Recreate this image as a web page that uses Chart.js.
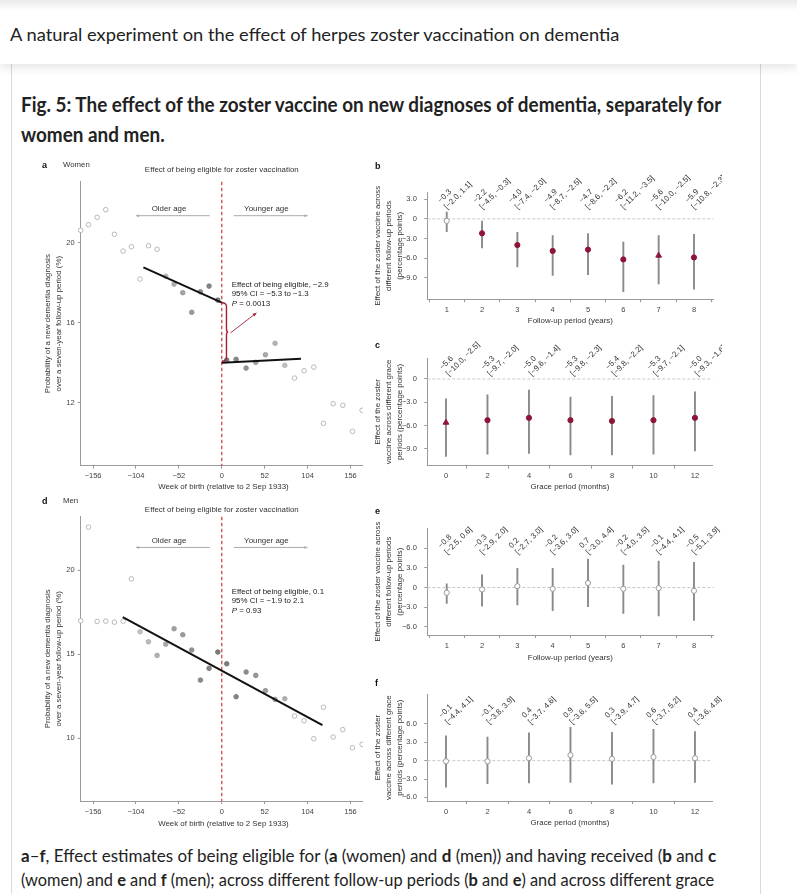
<!DOCTYPE html>
<html>
<head>
<meta charset="utf-8">
<title>Fig. 5 – zoster vaccine and dementia</title>
<script src="https://cdn.jsdelivr.net/npm/chart.js@4.4.1/dist/chart.umd.min.js"></script>
<style>
  html, body { margin: 0; padding: 0; background: #fff; }
  body { width: 797px; height: 894px; position: relative; overflow: hidden; }
  .topbar { position: absolute; left: 0; top: 0; width: 797px; height: 64px; background: linear-gradient(#ebebeb 0, #fff 11px); box-shadow: 0 4px 9px rgba(0,0,0,0.10); z-index: 3; }
  .card { position: absolute; left: 11px; top: 60px; width: 748px; height: 850px; border-left: 1px solid #d9d9d9; border-right: 1px solid #d9d9d9; }
  .txt { position: absolute; white-space: nowrap; transform-origin: 0 0; color: #222; font-family: Lato, "Liberation Sans", sans-serif; line-height: 1; }
  .head { font-size: 18px; left: 10px; top: 25px; z-index: 4; }
  .figtitle { font-size: 20px; font-weight: bold; left: 21px; }
  .caption { font-size: 17px; left: 21px; }
  .clip { position: absolute; overflow: hidden; }
  .clip canvas { position: absolute; left: 0; top: 0; }
  .pl { position: absolute; font-family: "Liberation Sans", Arial, sans-serif; font-size: 9px; font-weight: bold; line-height: 10px; color: #111; }
  .sex { position: absolute; font-family: "Liberation Sans", Arial, sans-serif; font-size: 7.8px; line-height: 10px; color: #333; }
</style>
</head>
<body>
<div class="topbar"></div>
<div class="txt head" id="head">A natural experiment on the effect of herpes zoster vaccination on dementia</div>
<div class="card"></div>
<div class="txt figtitle" id="fig1" style="top:94px">Fig. 5: The effect of the zoster vaccine on new diagnoses of dementia, separately for</div>
<div class="txt figtitle" id="fig2" style="top:124px">women and men.</div>

<div class="clip" style="left:30px;top:160px;width:333px;height:335px"><canvas id="chartA" width="345" height="335"></canvas></div>
<div class="clip" style="left:30px;top:495px;width:333px;height:340px"><canvas id="chartD" width="345" height="340"></canvas></div>
<div class="clip" style="left:360px;top:155px;width:362px;height:175px"><canvas id="chartB" width="380" height="175"></canvas></div>
<div class="clip" style="left:360px;top:330px;width:362px;height:165px"><canvas id="chartC" width="380" height="165"></canvas></div>
<div class="clip" style="left:360px;top:495px;width:362px;height:170px"><canvas id="chartE" width="380" height="170"></canvas></div>
<div class="clip" style="left:360px;top:665px;width:362px;height:170px"><canvas id="chartF" width="380" height="170"></canvas></div>

<div class="pl" style="left:42px;top:160px">a</div><div class="sex" style="left:63px;top:160px">Women</div>
<div class="pl" style="left:42px;top:496px">d</div><div class="sex" style="left:63px;top:496px">Men</div>
<div class="pl" style="left:375px;top:161px">b</div>
<div class="pl" style="left:375px;top:340px">c</div>
<div class="pl" style="left:375px;top:506px">e</div>
<div class="pl" style="left:375px;top:678px">f</div>

<div class="txt caption" id="cap1" style="top:847px"><b>a</b>–<b>f</b>, Effect estimates of being eligible for (<b>a</b> (women) and <b>d</b> (men)) and having received (<b>b</b> and <b>c</b></div>
<div class="txt caption" id="cap2" style="top:871px">(women) and <b>e</b> and <b>f</b> (men); across different follow-up periods (<b>b</b> and <b>e</b>) and across different grace</div>

<script>
// ---- data ----
const weekTicks = [-156, -104, -52, 0, 52, 104, 156];
const birthWeeks = [-171, -161.6, -151.1, -140.6, -130.1, -119.6, -109.5, -99, -88.9, -78.4,
    -67.9, -57.8, -47.3, -36.4, -25.9, -15.4, -4.8, 6, 17.4, 29.5, 41.2, 52.9, 64.6, 76.4,
    88.1, 99.8, 111.5, 123.2, 135, 146.7, 158.4, 170.1];
const womenRisk = [20.62, 20.9, 21.27, 21.65, 20.42, 19.58, 19.8, 18.18, 19.85, 19.67,
    18.32, 17.93, 17.5, 16.52, 17.55, 17.83, 17.13, 14.13, 14.17, 13.73, 14.02, 14.4, 14.97, 13.87,
    13.23, 13.6, 13.78, 10.97, 11.95, 11.87, 10.57, 11.62];
const menRisk = [17.0, 22.58, 16.96, 16.98, 16.92, 16.98, 19.5, 16.35, 15.75, 14.94,
    15.61, 16.53, 16.17, 15.26, 13.47, 14.17, 15.14, 14.44, 12.48, 13.95, 13.75, 12.84, 12.32, 12.36,
    11.33, 11.05, 9.98, 11.85, 10.08, 10.52, 9.44, 9.64];
const womenBand = [-70, 80];
const menBand = [-100, 80];
const womenFitLeftWeeks = [-95, 0];
const womenFitLeft = [18.77, 17.0];
const womenFitRightWeeks = [0, 96];
const womenFitRight = [14.0, 14.2];
const menFitWeeks = [-120, 122];
const menFit = [17.22, 10.79];

const followUpYears = [1, 2, 3, 4, 5, 6, 7, 8];
const graceMonths = [0, 2, 4, 6, 8, 10, 12];
const womenFollowEst = [-0.3, -2.2, -4.0, -4.9, -4.7, -6.2, -5.6, -5.9];
const womenFollowLo = [-2.0, -4.5, -7.4, -8.7, -8.6, -11.2, -10.0, -10.8];
const womenFollowHi = [1.1, -0.3, -2.0, -2.5, -2.2, -3.5, -2.5, -2.3];
const womenGraceEst = [-5.6, -5.3, -5.0, -5.3, -5.4, -5.3, -5.0];
const womenGraceLo = [-10.0, -9.7, -9.6, -9.8, -9.8, -9.7, -9.3];
const womenGraceHi = [-2.5, -2.0, -1.4, -2.3, -2.2, -2.1, -1.6];
const menFollowEst = [-0.8, -0.3, 0.2, -0.2, 0.7, -0.2, -0.1, -0.5];
const menFollowLo = [-2.5, -2.9, -2.7, -3.6, -3.0, -4.0, -4.4, -5.1];
const menFollowHi = [0.6, 2.0, 3.0, 3.0, 4.4, 3.5, 4.1, 3.9];
const menGraceEst = [-0.1, -0.1, 0.4, 0.9, 0.3, 0.6, 0.4];
const menGraceLo = [-4.4, -3.8, -3.7, -3.6, -3.9, -3.7, -3.6];
const menGraceHi = [4.1, 3.9, 4.6, 5.5, 4.7, 5.2, 4.8];

// ---- helpers ----
const FONT = '"Liberation Sans", Arial, Helvetica, sans-serif';
Chart.defaults.font.family = FONT;
const tickFont = {family: FONT, size: 7.5};
const axisTitleFont = {family: FONT, size: 7.9, lineHeight: 1.35};
const NOTE = '7.9px ' + FONT;
const CRIMSON = '#8e1537';
const num = v => (v === 0 ? '0' : String(v)).replace('-', '\u2212');
const dec = v => (v === 0 ? '0' : v.toFixed(1)).replace('-', '\u2212');

// work out padding / axis sizes so the plot area lands where it is in the figure
function frame(box, area, yTitleX, xTitleY) {
    const half = 7.3;
    const padLeft = yTitleX - box.left - half;
    const padBottom = box.top + box.height - (xTitleY + half);
    return {
        padding: {left: padLeft, top: area.top - box.top, right: box.left + box.width - area.right, bottom: padBottom},
        yWidth: area.left - box.left - padLeft,
        xHeight: (box.top + box.height - padBottom) - area.bottom
    };
}

function arrowTo(ctx, x1, y1, x2, y2, size) {
    const ang = Math.atan2(y2 - y1, x2 - x1);
    ctx.beginPath(); ctx.moveTo(x1, y1); ctx.lineTo(x2, y2); ctx.stroke();
    ctx.beginPath();
    ctx.moveTo(x2, y2);
    ctx.lineTo(x2 - size * Math.cos(ang - 0.45), y2 - size * Math.sin(ang - 0.45));
    ctx.lineTo(x2 - size * Math.cos(ang + 0.45), y2 - size * Math.sin(ang + 0.45));
    ctx.closePath(); ctx.fill();
}

function axisStyle(pad) {
    return {
        grid: {display: true, drawOnChartArea: false, drawTicks: true, tickLength: 3, color: '#9a9a9a'},
        border: {display: true, color: '#9a9a9a', width: 1},
        ticks: {font: tickFont, color: '#444', padding: pad, maxRotation: 0, autoSkip: false}
    };
}

// ---- regression discontinuity panels (a, d) ----
const rdNotes = {
    id: 'rdNotes',
    beforeDatasetsDraw(chart) {
        const {ctx, chartArea: a, scales: {x}} = chart;
        const cx = x.getPixelForValue(0);
        ctx.save();
        ctx.strokeStyle = '#cc3a36';
        ctx.lineWidth = 1.2;
        ctx.setLineDash([3.5, 2.5]);
        ctx.beginPath(); ctx.moveTo(cx, a.top); ctx.lineTo(cx, a.bottom); ctx.stroke();
        ctx.restore();
    },
    afterDatasetsDraw(chart, args, o) {
        const {ctx, scales: {x, y}} = chart;
        ctx.save();
        ctx.font = NOTE;
        ctx.fillStyle = '#333';
        ctx.textBaseline = 'middle';
        ctx.textAlign = 'center';
        ctx.fillText(o.title, x.getPixelForValue(0), o.titleY);

        const ty = y.getPixelForValue(o.ageLevel), ay = y.getPixelForValue(o.arrowLevel);
        ctx.fillText('Older age', x.getPixelForValue(-64), ty);
        ctx.fillText('Younger age', x.getPixelForValue(54), ty);
        ctx.strokeStyle = '#aaa'; ctx.fillStyle = '#aaa'; ctx.lineWidth = 1;
        arrowTo(ctx, x.getPixelForValue(-14.5), ay, x.getPixelForValue(-104), ay, 3.5);
        arrowTo(ctx, x.getPixelForValue(14.5), ay, x.getPixelForValue(104), ay, 3.5);

        ctx.fillStyle = '#222'; ctx.textAlign = 'left';
        const nx = x.getPixelForValue(o.noteAt[0]), ny = y.getPixelForValue(o.noteAt[1]);
        ctx.fillText(o.note[0], nx, ny);
        ctx.fillText(o.note[1], nx, ny + 9.5);
        ctx.font = 'italic ' + NOTE;
        ctx.fillText('P', nx, ny + 19);
        const pw = ctx.measureText('P').width;
        ctx.font = NOTE;
        ctx.fillText(o.note[2], nx + pw, ny + 19);

        if (o.bracket) {
            const b = o.bracket;
            const X0 = x.getPixelForValue(0), BX = x.getPixelForValue(b.x), TX = x.getPixelForValue(b.tip);
            const T = y.getPixelForValue(b.top), B = y.getPixelForValue(b.bottom), M = y.getPixelForValue(b.mid);
            ctx.strokeStyle = '#a31d35'; ctx.fillStyle = '#a31d35'; ctx.lineWidth = 1.4;
            ctx.beginPath();
            ctx.moveTo(X0, T);
            ctx.quadraticCurveTo(BX, T, BX, T + 4);
            ctx.lineTo(BX, M - 3);
            ctx.quadraticCurveTo(BX, M, TX, M);
            ctx.quadraticCurveTo(BX, M, BX, M + 3);
            ctx.lineTo(BX, B - 4);
            ctx.quadraticCurveTo(BX, B, X0, B);
            ctx.stroke();
            ctx.lineWidth = 0.9;
            arrowTo(ctx, x.getPixelForValue(b.arrowFrom[0]), y.getPixelForValue(b.arrowFrom[1]),
                x.getPixelForValue(b.arrowTo[0]), y.getPixelForValue(b.arrowTo[1]), 4);
        }
        ctx.restore();
    }
};

function dotFill(w, band) {
    if (w < band[0] || w > band[1]) return '#ffffff';
    const t = Math.abs(w) / Math.max(-band[0], band[1]);
    const g = Math.round(120 + t * 75);
    return 'rgb(' + g + ',' + g + ',' + g + ')';
}
function dotEdge(w, band) {
    if (w < band[0] || w > band[1]) return '#a8a8a8';
    const t = Math.abs(w) / Math.max(-band[0], band[1]);
    const g = Math.round(105 + t * 70);
    return 'rgb(' + g + ',' + g + ',' + g + ')';
}

function fitLine(weeks, vals) {
    return {
        type: 'line', data: weeks.map((w, i) => ({x: w, y: vals[i]})),
        borderColor: '#111', borderWidth: 2, pointRadius: 0, showLine: true, order: 0
    };
}

function rdChart(id, c) {
    const f = frame(c.box, c.area, 48, c.xTitleY);
    const xs = axisStyle(3), ys = axisStyle(3);
    return new Chart(document.getElementById(id), {
        type: 'scatter',
        data: {
            datasets: c.fits.map(p => fitLine(p[0], p[1])).concat([{
                data: birthWeeks.map((w, i) => ({x: w, y: c.risk[i]})),
                pointRadius: 2.3,
                pointBorderWidth: 0.8,
                pointBackgroundColor: birthWeeks.map(w => dotFill(w, c.band)),
                pointBorderColor: birthWeeks.map(w => dotEdge(w, c.band)),
                clip: false,
                order: 1
            }])
        },
        options: {
            responsive: false, animation: false, devicePixelRatio: 1,
            layout: {padding: f.padding},
            plugins: {legend: {display: false}, tooltip: {enabled: false}, rdNotes: c.notes},
            scales: {
                x: Object.assign(xs, {
                    type: 'linear', min: -171, max: 175, offset: false,
                    afterFit: s => { s.height = f.xHeight; },
                    afterBuildTicks: s => { s.ticks = weekTicks.map(v => ({value: v})); },
                    ticks: Object.assign(xs.ticks, {callback: v => num(v)}),
                    title: {display: true, text: 'Week of birth (relative to 2 Sep 1933)', font: axisTitleFont, color: '#333', padding: {top: 2, bottom: 2}}
                }),
                y: Object.assign(ys, {
                    type: 'linear', min: c.yMin, max: c.yMax,
                    afterFit: s => { s.width = f.yWidth; },
                    afterBuildTicks: s => { s.ticks = c.yTicks.map(v => ({value: v})); },
                    ticks: Object.assign(ys.ticks, {callback: v => num(v)}),
                    title: {display: true, text: ['Probability of a new dementia diagnosis', 'over a seven-year follow-up period (%)'], font: axisTitleFont, color: '#333', padding: {top: 2, bottom: 2}}
                })
            }
        },
        plugins: [rdNotes]
    });
}

rdChart('chartA', {
    box: {left: 30, top: 160, width: 345, height: 335},
    area: {left: 80.7, top: 181.7, right: 366.15, bottom: 465.7},
    xTitleY: 486.7, yMin: 8.85, yMax: 23.05, yTicks: [12, 16, 20],
    risk: womenRisk, band: womenBand,
    fits: [[womenFitLeftWeeks, womenFitLeft], [womenFitRightWeeks, womenFitRight]],
    notes: {
        title: 'Effect of being eligible for zoster vaccination', titleY: 10,
        ageLevel: 21.7, arrowLevel: 21.35,
        noteAt: [12, 17.9],
        note: ['Effect of being eligible, \u22122.9', '95% CI = \u22125.3 to \u22121.3', ' = 0.0013'],
        bracket: {x: 5.7, tip: 7.8, top: 17.0, bottom: 14.07, mid: 15.54, arrowFrom: [10.5, 15.49], arrowTo: [42, 16.49]}
    }
});

rdChart('chartD', {
    box: {left: 30, top: 495, width: 345, height: 340},
    area: {left: 80.7, top: 516.7, right: 366.15, bottom: 801},
    xTitleY: 824, yMin: 6.27, yMax: 23.2, yTicks: [10, 15, 20],
    risk: menRisk, band: menBand,
    fits: [[menFitWeeks, menFit]],
    notes: {
        title: 'Effect of being eligible for zoster vaccination', titleY: 14.7,
        ageLevel: 21.79, arrowLevel: 21.37,
        noteAt: [12, 18.73],
        note: ['Effect of being eligible, 0.1', '95% CI = \u22121.9 to 2.1', ' = 0.93'],
        bracket: null
    }
});

// ---- effect estimate panels (b, c, e, f) ----
const ciPanel = {
    id: 'ciPanel',
    beforeDatasetsDraw(chart) {
        const {ctx, chartArea: a, scales: {y}} = chart;
        const zy = y.getPixelForValue(0);
        ctx.save();
        ctx.strokeStyle = '#c8c8c8'; ctx.lineWidth = 1; ctx.setLineDash([3, 2]);
        ctx.beginPath(); ctx.moveTo(a.left, zy); ctx.lineTo(a.right, zy); ctx.stroke();
        ctx.restore();
    },
    afterDatasetsDraw(chart, args, o) {
        const {ctx, scales: {x, y}} = chart;
        ctx.save();
        ctx.font = NOTE;
        ctx.fillStyle = '#333';
        ctx.textAlign = 'left';
        ctx.textBaseline = 'alphabetic';
        const py = y.getPixelForValue(o.level);
        o.xs.forEach((v, i) => {
            ctx.save();
            ctx.translate(x.getPixelForValue(v) + o.dx, py);
            ctx.rotate(-Math.PI / 4);
            ctx.fillText(dec(o.est[i]), 0, 0);
            ctx.fillText('[' + dec(o.lo[i]) + ', ' + dec(o.hi[i]) + ']', 0, 9);
            ctx.restore();
        });
        ctx.restore();
    }
};

function ciChart(id, c) {
    const f = frame(c.box, c.area, 378, c.xTitleY);
    const xs = axisStyle(3), ys = axisStyle(7.5);
    const sig = c.hi.map((h, i) => h < 0 || c.lo[i] > 0);
    return new Chart(document.getElementById(id), {
        type: 'scatter',
        data: {
            datasets: [{
                data: c.xs.map((v, i) => ({x: v, y: c.est[i]})),
                pointStyle: c.xs.map(v => (v === c.mainSpec ? 'triangle' : 'circle')),
                pointRadius: c.xs.map(v => (v === c.mainSpec ? 3.3 : 2.6)),
                pointBorderWidth: 1,
                pointBackgroundColor: sig.map(s => (s ? CRIMSON : '#ffffff')),
                pointBorderColor: sig.map(s => (s ? CRIMSON : '#9a9a9a')),
                clip: false,
                order: 0
            }, {
                type: 'bar',
                data: c.xs.map((v, i) => ({x: v, y: [c.lo[i], c.hi[i]]})),
                backgroundColor: '#8a8a8a',
                borderWidth: 0,
                inflateAmount: 0,
                barThickness: 1.9,
                maxBarThickness: 1.9,
                grouped: false,
                order: 1
            }]
        },
        options: {
            responsive: false, animation: false, devicePixelRatio: 1,
            layout: {padding: f.padding},
            plugins: {legend: {display: false}, tooltip: {enabled: false},
                ciPanel: {xs: c.xs, est: c.est, lo: c.lo, hi: c.hi, level: c.labelLevel, dx: c.labelDx}},
            scales: {
                x: Object.assign(xs, {
                    type: 'linear', min: c.xMin, max: c.xMax, offset: false,
                    afterFit: s => { s.height = f.xHeight; },
                    afterBuildTicks: s => { s.ticks = c.xs.map(v => ({value: v})); },
                    ticks: Object.assign(xs.ticks, {callback: v => num(v)}),
                    title: {display: true, text: c.xTitle, font: axisTitleFont, color: '#333', padding: {top: 2, bottom: 2}}
                }),
                y: Object.assign(ys, {
                    type: 'linear', min: c.yMin, max: c.yMax,
                    afterFit: s => { s.width = f.yWidth; },
                    afterBuildTicks: s => { s.ticks = c.yTicks.map(v => ({value: v})); },
                    ticks: Object.assign(ys.ticks, {callback: v => dec(v)}),
                    title: {display: true, text: c.yTitle, font: axisTitleFont, color: '#333', padding: {top: 2, bottom: 2}}
                })
            }
        },
        plugins: [ciPanel]
    });
}

const followTitle = ['Effect of the zoster vaccine across', 'different follow-up periods', '(percentage points)'];
const graceTitle = ['Effect of the zoster', 'vaccine across different grace', 'periods (percentage points)'];

ciChart('chartB', {
    box: {left: 360, top: 155, width: 380, height: 175},
    area: {left: 427.3, top: 192.3, right: 713.4, bottom: 299.3},
    xTitleY: 321, xMin: 0.45, xMax: 8.55, yMin: -12.3, yMax: 4.07, yTicks: [3, 0, -3, -6, -9],
    xs: followUpYears, est: womenFollowEst, lo: womenFollowLo, hi: womenFollowHi, mainSpec: 7,
    labelLevel: 2.4, labelDx: -6, xTitle: 'Follow-up period (years)', yTitle: followTitle
});
ciChart('chartC', {
    box: {left: 360, top: 330, width: 380, height: 165},
    area: {left: 427.3, top: 358.3, right: 712.6, bottom: 465.7},
    xTitleY: 486.7, xMin: -0.9, xMax: 12.85, yMin: -11.15, yMax: 2.66, yTicks: [0, -3, -6, -9],
    xs: graceMonths, est: womenGraceEst, lo: womenGraceLo, hi: womenGraceHi, mainSpec: 0,
    labelLevel: 1.16, labelDx: -3.5, xTitle: 'Grace period (months)', yTitle: graceTitle
});
ciChart('chartE', {
    box: {left: 360, top: 495, width: 380, height: 170},
    area: {left: 427.3, top: 528.3, right: 713.4, bottom: 635},
    xTitleY: 657.7, xMin: 0.45, xMax: 8.55, yMin: -7.27, yMax: 9.06, yTicks: [6, 3, 0, -3, -6],
    xs: followUpYears, est: menFollowEst, lo: menFollowLo, hi: menFollowHi, mainSpec: null,
    labelLevel: 5.97, labelDx: -5.7, xTitle: 'Follow-up period (years)', yTitle: followTitle
});
ciChart('chartF', {
    box: {left: 360, top: 665, width: 380, height: 170},
    area: {left: 427.3, top: 694.3, right: 712.6, bottom: 801},
    xTitleY: 823.3, xMin: -0.9, xMax: 12.85, yMin: -6.6, yMax: 10.86, yTicks: [6, 3, 0, -3, -6],
    xs: graceMonths, est: menGraceEst, lo: menGraceLo, hi: menGraceHi, mainSpec: null,
    labelLevel: 6.94, labelDx: -4.3, xTitle: 'Grace period (months)', yTitle: graceTitle
});

// ---- squeeze the page text to the narrow face used on the site ----
// offsetWidth ignores transforms, so running this twice is harmless
function squeeze(ids, refId, target) {
    const k = target / document.getElementById(refId).offsetWidth;
    ids.forEach(i => { document.getElementById(i).style.transform = 'scaleX(' + k + ')'; });
}
function fitText() {
    squeeze(['head'], 'head', 609);
    squeeze(['fig1', 'fig2'], 'fig1', 700);
    squeeze(['cap2'], 'cap2', 693);
    squeeze(['cap1'], 'cap1', 695);
}
fitText();
if (document.fonts) document.fonts.ready.then(fitText);
</script>
</body>
</html>
